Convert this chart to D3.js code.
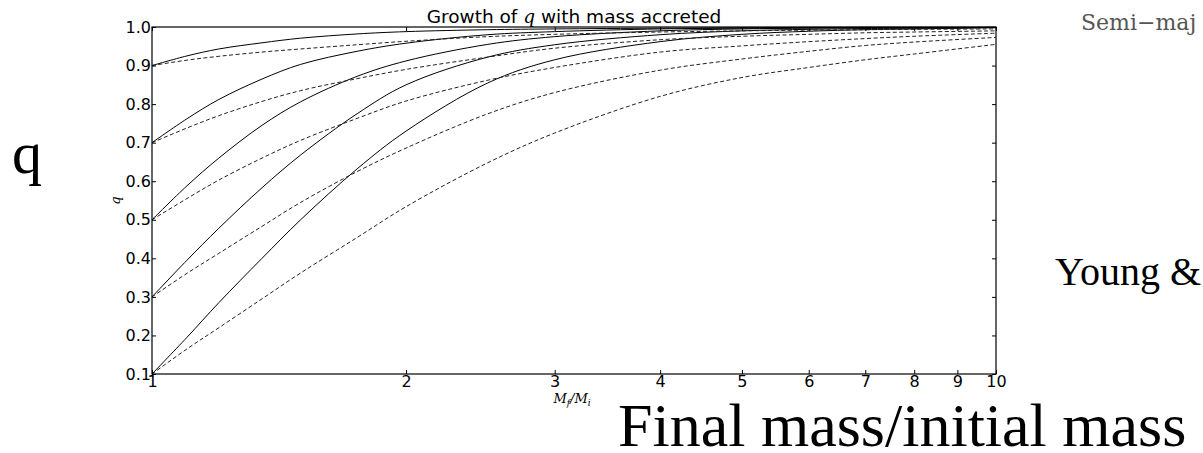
<!DOCTYPE html>
<html>
<head>
<meta charset="utf-8">
<script src="https://cdn.jsdelivr.net/npm/d3@7"></script>
<style>
  body { margin: 0; background: #fff; }
  svg { display: block; }
</style>
</head>
<body>
<div id="chart"></div>
<script>
(function drawGrowth() {
    // values (x = Mf/Mi, log axis)
    const massRatio = [1, 1.1, 1.2, 1.35, 1.5, 1.75, 2, 2.5, 3, 4, 5, 6, 7, 8, 10];
    const startQ = [0.1, 0.3, 0.5, 0.7, 0.9];
    const solidQ = [
        [0.1, 0.195, 0.285, 0.40, 0.50, 0.632, 0.73, 0.855, 0.915, 0.962, 0.981, 0.989, 0.993, 0.995, 0.998],
        [0.3, 0.395, 0.478, 0.583, 0.668, 0.775, 0.85, 0.922, 0.954, 0.98, 0.99, 0.994, 0.996, 0.997, 0.999],
        [0.5, 0.588, 0.66, 0.745, 0.806, 0.872, 0.912, 0.955, 0.975, 0.99, 0.995, 0.997, 0.998, 0.998, 0.999],
        [0.7, 0.762, 0.812, 0.865, 0.903, 0.937, 0.958, 0.98, 0.988, 0.995, 0.997, 0.998, 0.999, 0.999, 0.999],
        [0.9, 0.925, 0.943, 0.959, 0.971, 0.982, 0.988, 0.993, 0.995, 0.997, 0.998, 0.999, 0.999, 0.999, 0.999]
    ];
    const dashedQ = [
        [0.1, 0.165, 0.22, 0.295, 0.362, 0.454, 0.534, 0.648, 0.725, 0.82, 0.869, 0.895, 0.915, 0.93, 0.955],
        [0.3, 0.361, 0.413, 0.483, 0.545, 0.625, 0.686, 0.775, 0.83, 0.888, 0.917, 0.937, 0.952, 0.961, 0.973],
        [0.5, 0.555, 0.603, 0.66, 0.706, 0.763, 0.808, 0.862, 0.895, 0.935, 0.951, 0.962, 0.97, 0.976, 0.984],
        [0.7, 0.738, 0.77, 0.807, 0.835, 0.866, 0.89, 0.922, 0.945, 0.967, 0.976, 0.981, 0.985, 0.987, 0.99],
        [0.9, 0.914, 0.924, 0.935, 0.943, 0.954, 0.963, 0.975, 0.981, 0.987, 0.99, 0.992, 0.993, 0.994, 0.995]
    ];
    const xTicks = [1, 2, 3, 4, 5, 6, 7, 8, 9, 10];
    const yTicks = [0.1, 0.2, 0.3, 0.4, 0.5, 0.6, 0.7, 0.8, 0.9, 1.0];

    const width = 1203;
    const height = 453;
    const plot = { left: 152, right: 996, top: 27, bottom: 374 };

    const svg = d3.select("#chart").append("svg")
        .attr("width", width)
        .attr("height", height);

    const x = d3.scaleLog().domain([1, 10]).range([plot.left, plot.right]);
    const y = d3.scaleLinear().domain([0.1, 1.0]).range([plot.bottom, plot.top]);

    const line = d3.line()
        .x(d => x(d[0]))
        .y(d => y(d[1]))
        .curve(d3.curveCatmullRom.alpha(0.5));

    const curves = svg.append("g").attr("fill", "none").attr("stroke", "#000");

    startQ.forEach((q0, i) => {
        curves.append("path")
            .attr("d", line(massRatio.map((m, j) => [m, dashedQ[i][j]])))
            .attr("stroke-width", 1)
            .attr("stroke-dasharray", "4,2.5")
            .attr("stroke", "#222");
        curves.append("path")
            .attr("d", line(massRatio.map((m, j) => [m, solidQ[i][j]])))
            .attr("stroke-width", 1);
    });

    function styleAxis(g) {
        g.select(".domain").remove();
        g.attr("font-family", "DejaVu Sans").attr("font-size", 16);
        g.selectAll("text").attr("fill", "#000");
        g.selectAll("line").attr("stroke", "#000");
    }

    svg.append("g")
        .attr("transform", `translate(0,${plot.bottom})`)
        .call(d3.axisBottom(x).tickValues(xTicks).tickFormat(d3.format("d"))
            .tickSizeInner(-4).tickSizeOuter(0).tickPadding(2))
        .call(styleAxis);

    svg.append("g")
        .attr("transform", `translate(0,${plot.top})`)
        .call(d3.axisTop(x).tickValues(xTicks).tickFormat("")
            .tickSizeInner(-4).tickSizeOuter(0))
        .call(styleAxis);

    svg.append("g")
        .attr("transform", `translate(${plot.left},0)`)
        .call(d3.axisLeft(y).tickValues(yTicks).tickFormat(d3.format(".1f"))
            .tickSizeInner(-4).tickSizeOuter(0).tickPadding(1))
        .call(styleAxis);

    svg.append("g")
        .attr("transform", `translate(${plot.right},0)`)
        .call(d3.axisRight(y).tickValues(yTicks).tickFormat("")
            .tickSizeInner(-4).tickSizeOuter(0))
        .call(styleAxis);

    svg.append("rect")
        .attr("x", plot.left)
        .attr("y", plot.top)
        .attr("width", plot.right - plot.left)
        .attr("height", plot.bottom - plot.top)
        .attr("fill", "none")
        .attr("stroke", "#000")
        .attr("stroke-width", 1.2);

    // title
    const title = svg.append("text")
        .attr("x", (plot.left + plot.right) / 2)
        .attr("y", 23)
        .attr("text-anchor", "middle")
        .attr("font-family", "DejaVu Sans")
        .attr("font-size", 18.5);
    title.append("tspan").text("Growth of ");
    title.append("tspan").attr("font-family", "DejaVu Serif").attr("font-style", "italic").text("q");
    title.append("tspan").text(" with mass accreted");

    // axis labels
    const xl = svg.append("text")
        .attr("x", (plot.left + plot.right) / 2 - 2)
        .attr("y", 403)
        .attr("text-anchor", "middle")
        .attr("font-family", "DejaVu Serif")
        .attr("font-style", "italic")
        .attr("font-size", 13);
    xl.append("tspan").text("M");
    xl.append("tspan").attr("font-size", 9).attr("dy", 3).text("f");
    xl.append("tspan").attr("dy", -3).text("/M");
    xl.append("tspan").attr("font-size", 9).attr("dy", 3).text("i");

    svg.append("text")
        .attr("transform", `translate(120,${(plot.top + plot.bottom) / 2}) rotate(-90)`)
        .attr("text-anchor", "middle")
        .attr("font-family", "DejaVu Serif")
        .attr("font-style", "italic")
        .attr("font-size", 13)
        .text("q");

    // slide annotations around the plot
    svg.append("text")
        .attr("x", 12)
        .attr("y", 173)
        .attr("font-family", "Liberation Serif")
        .attr("font-size", 60)
        .text("q");

    svg.append("text")
        .attr("x", 618)
        .attr("y", 446)
        .attr("font-family", "Liberation Serif")
        .attr("font-size", 62)
        .text("Final mass/initial mass");

    svg.append("text")
        .attr("x", 1055)
        .attr("y", 285)
        .attr("font-family", "Liberation Serif")
        .attr("font-size", 40)
        .text("Young &");

    svg.append("text")
        .attr("x", 1081)
        .attr("y", 30)
        .attr("font-family", "DejaVu Serif")
        .attr("font-size", 22)
        .attr("fill", "#555")
        .text("Semi\u2212maj");
}());
</script>
</body>
</html>
